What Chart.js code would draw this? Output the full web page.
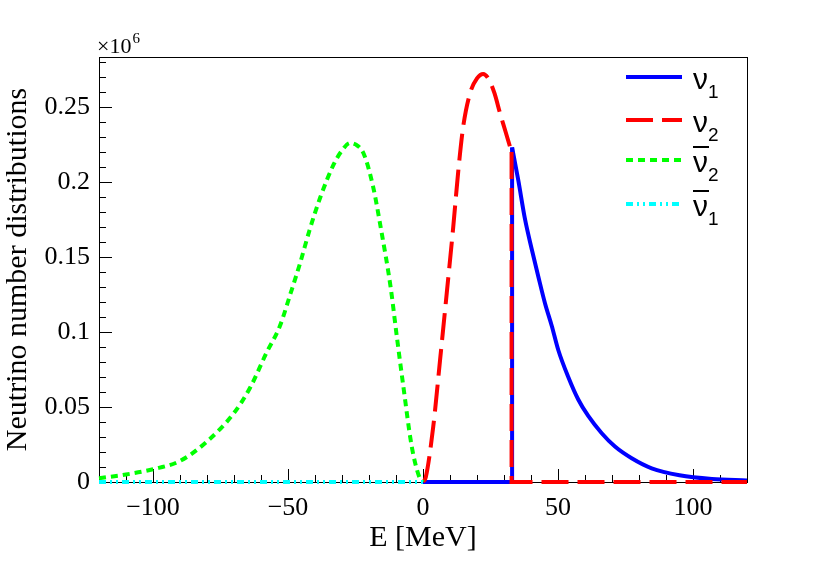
<!DOCTYPE html>
<html>
<head>
<meta charset="utf-8">
<script src="https://cdn.jsdelivr.net/npm/chart.js@4.4.1/dist/chart.umd.min.js"></script>
<style>
  body { margin: 0; background: #fff; }
  #c { display: block; }
</style>
</head>
<body>
<canvas id="c" width="830" height="561"></canvas>
<script>
// values in units of 10^6
const E_MIN = -120, E_MAX = 120;

// nu_1: zero below the edge, then the falling tail
const E_NU1 = [33.0, 35.3, 37.8, 40.3, 42.7, 45.2, 47.7, 50.1, 53.8, 57.5, 61.2, 66.2, 71.1, 77.3, 84.7, 95, 107, 120];
const N_NU1 = [0.223, 0.201, 0.175, 0.155, 0.137, 0.119, 0.104, 0.088, 0.070, 0.055, 0.044, 0.0325, 0.0236, 0.0158, 0.0091, 0.0045, 0.002, 0.001];

// nu_2: rising part up to the edge, zero above it
const E_NU2 = [0, 1, 3.8, 6.3, 8.8, 11.2, 13.1, 14.9, 17.4, 20, 22.3, 24.5, 26.5, 28.5, 30.5, 32.8];
const N_NU2 = [0, 0.003, 0.037, 0.081, 0.126, 0.170, 0.208, 0.237, 0.259, 0.269, 0.272, 0.268, 0.259, 0.246, 0.234, 0.220];

const E_NUBAR2 = [-120, -110, -100, -90, -80, -70, -64, -58, -53, -49, -45.5, -42, -38, -33, -30, -27, -25, -22, -18.5, -15.5, -12, -9.7, -7.3, -4.2, -1.5, 0];
const N_NUBAR2 = [0.0025, 0.005, 0.0085, 0.014, 0.027, 0.046, 0.063, 0.086, 0.104, 0.126, 0.146, 0.168, 0.190, 0.212, 0.221, 0.226, 0.225, 0.219, 0.197, 0.168, 0.130, 0.097, 0.064, 0.024, 0.004, 0];

const E_NUBAR1 = [-120, 0];
const N_NUBAR1 = [0, 0];

const X_TICKS = [-100, -50, 0, 50, 100];
const Y_TICKS = [0, 0.05, 0.1, 0.15, 0.2, 0.25];

const SERIF = '"Liberation Serif", "Times New Roman", serif';
const SANS = '"Liberation Sans", Arial, sans-serif';

function pts(xs, ys) {
    return xs.map((x, i) => ({ x: x, y: ys[i] }));
}

const series = [
    { label: 'ν', sub: '1', bar: false, color: '#0000ff', dash: [], order: 4 },
    { label: 'ν', sub: '2', bar: false, color: '#ff0000', dash: [27, 9], order: 3 },
    { label: 'ν', sub: '2', bar: true, color: '#00ff00', dash: [7, 5], order: 2 },
    { label: 'ν', sub: '1', bar: true, color: '#00ffff', dash: [7, 4, 2, 4, 2, 4], order: 1 }
];

function ds(s, data, smooth) {
    return {
        data: data,
        borderColor: s.color,
        backgroundColor: s.color,
        borderWidth: 4,
        borderDash: s.dash,
        pointRadius: 0,
        fill: false,
        clip: 6,
        tension: 0,
        cubicInterpolationMode: smooth ? 'monotone' : 'default',
        order: s.order
    };
}

const e1 = E_NU1[0], n1 = N_NU1[0];
const e2 = E_NU2[E_NU2.length - 1], n2 = N_NU2[N_NU2.length - 1];

const datasets = [
    ds(series[0], [{ x: 0, y: 0 }, { x: e1, y: 0 }, { x: e1, y: n1 }], false),
    ds(series[0], pts(E_NU1, N_NU1), true),
    ds(series[1], pts(E_NU2, N_NU2), true),
    ds(series[1], [{ x: e2, y: n2 }, { x: e2, y: 0 }, { x: E_MAX, y: 0 }], false),
    ds(series[2], pts(E_NUBAR2, N_NUBAR2), true),
    ds(series[3], pts(E_NUBAR1, N_NUBAR1), false)
];

// frame + inward ticks, ROOT style
const framePlugin = {
    id: 'frame',
    beforeDatasetsDraw(chart) {
        const ctx = chart.ctx, a = chart.chartArea;
        const xs = chart.scales.x, ys = chart.scales.y;
        ctx.save();
        ctx.strokeStyle = '#000';
        ctx.lineWidth = 1;
        ctx.strokeRect(Math.round(a.left) + 0.5, Math.round(a.top) + 0.5,
            Math.round(a.right - a.left), Math.round(a.bottom - a.top));
        ctx.beginPath();
        for (let v = -110; v <= 110; v += 10) {
            const px = Math.round(xs.getPixelForValue(v)) + 0.5;
            const len = v % 50 === 0 ? 13 : 7;
            ctx.moveTo(px, a.bottom);
            ctx.lineTo(px, a.bottom - len);
        }
        for (let i = 1; i <= 28; i++) {
            const v = i / 100;
            const py = Math.round(ys.getPixelForValue(v)) + 0.5;
            const len = i % 5 === 0 ? 13 : 7;
            ctx.moveTo(a.left, py);
            ctx.lineTo(a.left + len, py);
        }
        ctx.stroke();
        ctx.restore();
    },
    afterDraw(chart) {
        const ctx = chart.ctx, a = chart.chartArea;
        ctx.save();
        ctx.fillStyle = '#000';
        ctx.textBaseline = 'alphabetic';
        // x10^6 multiplier
        ctx.font = '22px ' + SERIF;
        ctx.fillText('×10', a.left - 2, a.top - 4);
        const w = ctx.measureText('×10').width;
        ctx.font = '15px ' + SERIF;
        ctx.fillText('6', a.left - 1 + w, a.top - 14);

        // legend
        const rows = [77, 120, 160, 204];
        series.forEach((s, i) => {
            const y = rows[i];
            ctx.strokeStyle = s.color;
            ctx.lineWidth = 4;
            ctx.setLineDash(s.dash);
            ctx.beginPath();
            ctx.moveTo(626, y);
            ctx.lineTo(682, y);
            ctx.stroke();
            ctx.setLineDash([]);
            ctx.fillStyle = '#000';
            ctx.font = '30px ' + SANS;
            const base = y + 12;
            ctx.fillText(s.label, 693, base);
            const nw = ctx.measureText(s.label).width;
            if (s.bar) {
                ctx.fillRect(693, base - 26, nw + 1, 2);
            }
            ctx.font = '19px ' + SANS;
            ctx.fillText(s.sub, 693 + nw, base + 9);
        });
        ctx.restore();
    }
};

new Chart(document.getElementById('c'), {
    type: 'line',
    data: { datasets: datasets },
    options: {
        responsive: false,
        animation: false,
        devicePixelRatio: 1,
        layout: { padding: { top: 57, right: 83, left: 0, bottom: 0 } },
        plugins: { legend: { display: false }, tooltip: { enabled: false } },
        scales: {
            x: {
                type: 'linear',
                min: E_MIN,
                max: E_MAX,
                afterBuildTicks: s => { s.ticks = X_TICKS.map(v => ({ value: v })); },
                afterFit: s => { s.height = 79; },
                grid: { display: false, drawTicks: false },
                border: { display: false },
                ticks: {
                    color: '#000',
                    font: { family: SERIF, size: 26 },
                    padding: 11,
                    maxRotation: 0,
                    callback: v => String(v).replace('-', '−')
                },
                title: {
                    display: true,
                    text: 'E [MeV]',
                    color: '#000',
                    font: { family: SERIF, size: 30 },
                    padding: { top: 0, bottom: 5 }
                }
            },
            y: {
                type: 'linear',
                min: 0,
                max: 0.2833,
                afterBuildTicks: s => { s.ticks = Y_TICKS.map(v => ({ value: v })); },
                afterFit: s => { s.width = 99; },
                grid: { display: false, drawTicks: false },
                border: { display: false },
                ticks: {
                    color: '#000',
                    font: { family: SERIF, size: 26 },
                    padding: 9,
                    callback: v => String(+v.toFixed(2))
                },
                title: {
                    display: true,
                    text: 'Neutrino number distributions',
                    color: '#000',
                    font: { family: SERIF, size: 30 },
                    padding: { top: 0, bottom: 2 }
                }
            }
        }
    },
    plugins: [framePlugin]
});
</script>
</body>
</html>
